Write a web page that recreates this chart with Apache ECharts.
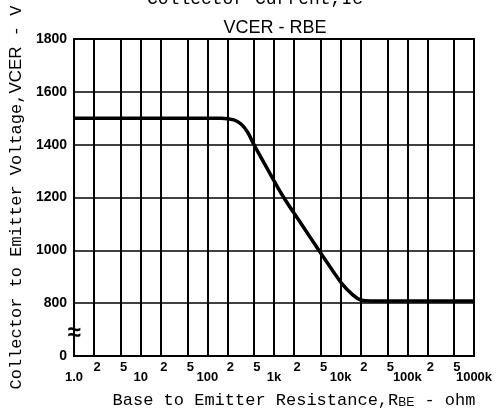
<!DOCTYPE html>
<html>
<head>
<meta charset="utf-8">
<script src="https://cdn.jsdelivr.net/npm/echarts@6/dist/echarts.min.js"></script>
<style>html,body{margin:0;padding:0;background:#fff;}#c{width:499px;height:414px;}</style>
</head>
<body>
<div id="c"></div>
<script>
// Data
const rbe = [1, 160, 250, 320, 400, 500, 830, 1400, 2570, 4700, 7500, 10500, 14500, 20000, 28000, 1000000];
const vcer = [1500, 1500, 1494, 1478, 1448, 1400, 1300, 1200, 1100, 1000, 925, 873, 836, 812, 808, 808];
const minorGridValues = [2, 5, 20, 50, 200, 500, 2000, 5000, 20000, 50000, 200000, 500000];
const minorGridLabels = ['2', '5', '2', '5', '2', '5', '2', '5', '2', '5', '2', '5'];
const decadeLabels = {1: '1.0', 10: '10', 100: '100', 1000: '1k', 10000: '10k', 100000: '100k', 1000000: '1000k'};
const yTicks = {600: '0', 800: '800', 1000: '1000', 1200: '1200', 1400: '1400', 1600: '1600', 1800: '1800'};

const mono = '"Liberation Mono", "DejaVu Sans Mono", monospace';
const sans = '"Liberation Sans", Arial, sans-serif';
const narrow = '"Liberation Sans Narrow", "Liberation Sans", Arial, sans-serif';

const chart = echarts.init(document.getElementById('c'), null, {renderer: 'canvas'});
chart.setOption({
  animation: false,
  backgroundColor: '#fff',
  title: [
    {text: 'Collector Current,Ic', left: 250, top: -15, textAlign: 'center',
     textStyle: {fontFamily: mono, fontSize: 18, fontWeight: 'normal', color: '#000'}},
    {text: 'VCER - RBE', left: 270, top: 14, textAlign: 'center',
     textStyle: {fontFamily: sans, fontSize: 18, fontWeight: 'normal', color: '#000'}}
  ],
  grid: {left: 68, right: 25, top: 39, bottom: 50, show: true, borderColor: '#000', borderWidth: 2},
  xAxis: {
    type: 'log', logBase: 10, min: 1, max: 1000000,
    axisLine: {show: true, lineStyle: {color: '#000', width: 2}},
    axisTick: {show: false},
    splitLine: {show: true, lineStyle: {color: '#000', width: 2}},
    axisLabel: {
      margin: 15, color: '#000', fontFamily: narrow, fontWeight: 'bold', fontSize: 13,
      formatter: v => decadeLabels[Math.round(v)] || ''
    },
    name: 'Base to Emitter Resistance,R{sub|BE} - ohm',
    nameLocation: 'middle', nameGap: 35,
    nameTextStyle: {
      fontFamily: mono, fontSize: 17, color: '#000', padding: [0, 0, 0, 40],
      rich: {sub: {fontFamily: sans, fontSize: 12, color: '#000', verticalAlign: 'bottom', padding: [6, 0, 0, 0]}}
    }
  },
  yAxis: {
    type: 'value', min: 600, max: 1800, interval: 200,
    axisLine: {show: true, lineStyle: {color: '#000', width: 2}},
    axisTick: {show: false},
    splitLine: {show: true, lineStyle: {color: '#000', width: 1.5}},
    axisLabel: {
      margin: 7, color: '#000', fontFamily: narrow, fontWeight: 'bold', fontSize: 14,
      formatter: v => yTicks[v] || ''
    },
    name: 'Collector to Emitter Voltage,{s|VCER} - V',
    nameLocation: 'middle', nameGap: 41, nameRotate: 90,
    nameTextStyle: {
      fontFamily: mono, fontSize: 17, color: '#000',
      rich: {s: {fontFamily: sans, fontSize: 17, color: '#000'}}
    }
  },
  series: [
    {
      type: 'line', data: rbe.map((r, i) => [r, vcer[i]]),
      smooth: 0.4, showSymbol: false, symbol: 'none',
      lineStyle: {color: '#000', width: 3.5}, silent: true, z: 5,
      markLine: {
        silent: true, symbol: 'none', animation: false,
        lineStyle: {color: '#000', width: 2, type: 'solid'},
        label: {show: true, position: 'start', distance: 5, color: '#000',
                fontFamily: narrow, fontWeight: 'bold', fontSize: 13,
                formatter: p => p.name, offset: [3, 0]},
        emphasis: {disabled: true},
        data: minorGridValues.map((v, i) => ({xAxis: v, name: minorGridLabels[i]}))
      }
    }
  ]
});
// axis-break symbol on the left axis between 0 and 800
const p = chart.convertToPixel({gridIndex: 0}, [1, 685]);
chart.setOption({
  graphic: [{type: 'text', x: p[0], y: p[1], style: {text: '≈', fontSize: 24, fontWeight: 'bold', fill: '#000',
    align: 'center', verticalAlign: 'middle', fontFamily: sans}, z: 10}]
});
</script>
</body>
</html>
